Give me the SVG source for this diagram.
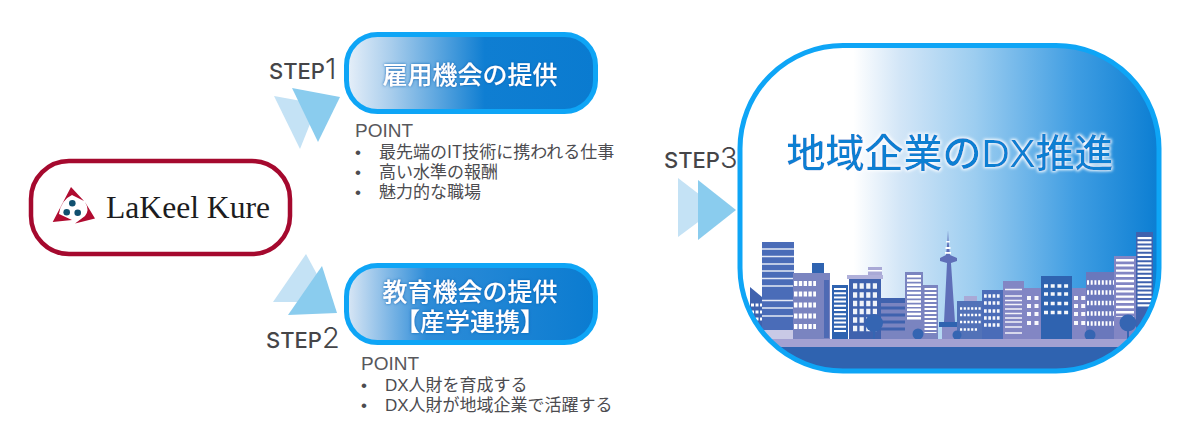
<svg xmlns="http://www.w3.org/2000/svg" width="1200" height="428" viewBox="0 0 1200 428">
<style>
text{font-family:"Noto Sans CJK JP","Noto Sans",sans-serif}
.step{font-family:Inter,"Noto Sans",sans-serif;fill:#454548;font-size:22px;font-weight:500}
.step tspan{font-size:29px;font-weight:300}
.btn{fill:#fff;font-size:25px;font-weight:500;text-anchor:middle;filter:url(#blueGlow)}
.hd{fill:#58585c;font-size:19px;font-family:"Liberation Sans",sans-serif}
.li{fill:#4c4c50;font-size:17px}
.li2{fill:#4c4c50;font-size:17px;font-family:"Liberation Sans","Noto Sans CJK JP",sans-serif}
.bu{fill:#4c4c50;font-size:17px;font-family:"Liberation Sans",sans-serif}
.lt{fill:#c4e2f5}.dk{fill:#8accee}
.w{fill:none;stroke:#fff}
</style>
<defs>
<linearGradient id="g1" gradientUnits="userSpaceOnUse" x1="346" x2="598" y1="0" y2="0"><stop offset="0" stop-color="#e8f0f9"/><stop offset=".18" stop-color="#a8cdec"/><stop offset=".55" stop-color="#0f7ed2"/><stop offset="1" stop-color="#0a7bd0"/></linearGradient>
<linearGradient id="g2" gradientUnits="userSpaceOnUse" x1="346" x2="598" y1="0" y2="0"><stop offset="0" stop-color="#dce8f5"/><stop offset=".32" stop-color="#2d8cd8"/><stop offset="1" stop-color="#0a7bd0"/></linearGradient>
<linearGradient id="g3" gradientUnits="userSpaceOnUse" x1="740" x2="1160" y1="0" y2="0"><stop offset="0" stop-color="#fff"/><stop offset=".27" stop-color="#fff"/><stop offset=".38" stop-color="#d3e6f7"/><stop offset=".56" stop-color="#9ccdf0"/><stop offset=".8" stop-color="#3f9de2"/><stop offset="1" stop-color="#0a7dd2"/></linearGradient>
<filter id="blueGlow" x="-10%" y="-30%" width="120%" height="160%"><feDropShadow dx="0" dy="0" stdDeviation="1.600" flood-color="#0a5fb0" flood-opacity=".9"/></filter>
<filter id="whiteGlow" x="-5%" y="-20%" width="110%" height="140%"><feMorphology in="SourceAlpha" operator="dilate" radius="1.200" result="d"/><feGaussianBlur in="d" stdDeviation="1.500" result="b"/><feFlood flood-color="#fff"/><feComposite in2="b" operator="in"/><feMerge><feMergeNode/><feMergeNode in="SourceGraphic"/></feMerge></filter>
<clipPath id="bigClip"><rect x="740" y="45.500" width="419" height="325.500" rx="103"/></clipPath>
</defs>
<rect width="1200" height="428" fill="#fff"/>

<g id="connectors">
<polygon class="lt" points="274,96 318,104 300,149"/>
<polygon class="dk" points="292,88 340,97 318,142"/>
<polygon class="lt" points="306,254 332,302 273,302"/>
<polygon class="dk" points="322,266 337,313 288,315"/>
<polygon class="lt" points="678,178 717,208 678,237"/>
<polygon class="dk" points="698,180 736,210 698,240"/>
</g>

<g id="node-lakeel">
<rect x="31" y="161" width="259" height="93" rx="38" fill="#fff" stroke="#a5092e" stroke-width="4.500"/>
<path d="M71,187 L84,201 L72,195 Q61,200 59,214 L72,220 L52.700,222Z M85,202 L95,218.500 L75,223.500 L85,216 Q90,210 85,202Z" fill="#b00b30"/>
<circle cx="72.300" cy="203.300" r="3.300" fill="#10506f"/><circle cx="66.700" cy="212.300" r="3.300" fill="#10506f"/><circle cx="77.700" cy="212.700" r="3.300" fill="#10506f"/>
<text x="106" y="218" font-size="32" fill="#1c1c20" textLength="164" lengthAdjust="spacingAndGlyphs" style="font-family:'Liberation Serif',serif">LaKeel Kure</text>
</g>

<g id="node-step1">
<text class="step" x="269" y="79">STEP<tspan>1</tspan></text>
<rect x="346.500" y="34.500" width="249" height="77" rx="31" fill="url(#g1)" stroke="#0ea5f6" stroke-width="5"/>
<text class="btn" x="470" y="84">雇用機会の提供</text>
<text class="hd" x="355" y="137">POINT</text>
<text class="bu" x="355" y="158">•</text><text class="li" x="379" y="158">最先端のIT技術に携われる仕事</text>
<text class="bu" x="355" y="178">•</text><text class="li" x="379" y="178">高い水準の報酬</text>
<text class="bu" x="355" y="198">•</text><text class="li" x="379" y="198">魅力的な職場</text>
</g>

<g id="node-step2">
<text class="step" x="266" y="348">STEP<tspan>2</tspan></text>
<rect x="346.500" y="265.500" width="249" height="77" rx="31" fill="url(#g2)" stroke="#0ea5f6" stroke-width="5"/>
<text class="btn" x="470" y="301">教育機会の提供</text>
<text class="btn" x="470" y="331">【産学連携】</text>
<text class="hd" x="361" y="370">POINT</text>
<text class="bu" x="361" y="391">•</text><text class="li2" x="385" y="391">DX人財を育成する</text>
<text class="bu" x="361" y="411">•</text><text class="li2" x="385" y="411">DX人財が地域企業で活躍する</text>
</g>

<g id="node-step3">
<text class="step" x="664" y="168">STEP<tspan>3</tspan></text>
<rect x="740" y="45.500" width="419" height="325.500" rx="103" fill="url(#g3)"/>
<g clip-path="url(#bigClip)">
<polygon points="750,287 762,297 762,330 750,330" fill="#3f62ae"/>
<path class="w" d="M751,305h11M751,312h11M751,319h11" stroke-width="3" stroke-dasharray="3 1.500"/>
<rect x="762" y="242" width="32" height="88" fill="#4a6cb8"/>
<path class="w" d="M762,249h32M762,256.500h32M762,264h32M762,271h32M762,278.500h32M762,286h32M762,300.500h32M762,308h32M762,316h32" stroke-width="1.300" stroke-opacity=".85"/>
<rect x="762" y="330" width="32" height="9" fill="#c9c9e6"/>
<rect x="793" y="273" width="37" height="66" fill="#7a84c0"/>
<rect x="812" y="263" width="12" height="10" fill="#2f63b0"/>
<rect x="824" y="280" width="5" height="58" fill="#4e6ab4"/>
<path class="w" d="M794,283.500h22M794,294h22M794,305h22M794,316h22M794,326.500h22" stroke-width="5" stroke-dasharray="3.400 1.400"/>
<rect x="832" y="285" width="16" height="54" fill="#2f63b0"/>
<path class="w" d="M840,288v45" stroke-width="12" stroke-dasharray="2 2.200"/>
<rect x="849" y="279" width="32" height="60" fill="#3f62ae"/>
<rect x="847" y="275" width="36" height="4" fill="#b0b0da"/>
<rect x="868" y="267" width="14" height="8" fill="#a9a9d6"/><rect x="868" y="270" width="14" height="1.500" fill="#fff"/>
<path class="w" d="M853,286h26M853,295h26M853,303.500h26M853,311.500h26M853,320h26M853,328.500h26" stroke-width="5.500" stroke-dasharray="4.200 2.400" stroke-opacity=".92"/>
<rect x="881" y="298" width="26" height="41" fill="#7a84c0"/>
<rect x="881" y="298" width="26" height="5" fill="#3f62ae"/>
<path d="M881,308h26M881,315h26M881,322h26M881,329h26" stroke="#3f62ae" stroke-width="3" fill="none"/>
<rect x="905" y="272" width="18" height="67" fill="#7a84c0"/>
<path class="w" d="M914,275v46" stroke-width="14" stroke-dasharray="2.500 1.700"/>
<rect x="923" y="285" width="15" height="54" fill="#7a84c0"/>
<path class="w" d="M930.500,288v45" stroke-width="12" stroke-dasharray="2 2"/>
<circle cx="874" cy="323" r="9" fill="#3565b2"/><rect x="873" y="325" width="2" height="14" fill="#3565b2"/>
<circle cx="918" cy="334" r="5.500" fill="#3565b2"/>
<polygon points="948,230 948.700,243 950,255 957,258 957,261 951,263 955,322 944,322 947,263 940,261 940,258 946,255 947.300,243" fill="#5f6fb8"/>
<rect x="946.200" y="241" width="3.600" height="1.500" fill="#fff"/><rect x="945.500" y="247" width="5" height="2" fill="#fff"/><rect x="945" y="252" width="6" height="1.800" fill="#fff"/>
<rect x="939" y="322" width="19" height="5" fill="#2f63b0"/><rect x="942" y="327" width="15" height="12" fill="#8a8ec8"/>
<rect x="957" y="301" width="26" height="38" fill="#5272b8"/><rect x="964" y="296" width="13" height="5" fill="#a9a9d6"/>
<path class="w" d="M960,308.500h21M960,315h21M960,322h21M960,329.500h18" stroke-width="2.600" stroke-dasharray="2.200 1.500"/>
<circle cx="957" cy="335" r="4.500" fill="#3565b2"/>
<rect x="982" y="290" width="21" height="49" fill="#4a6cb8"/>
<path class="w" d="M984,296h17M984,303h17M984,311h17M984,318h17M984,325h17" stroke-width="3.400" stroke-dasharray="2.700 1.600" stroke-opacity=".95"/>
<rect x="1003" y="281" width="21" height="58" fill="#8286c4"/>
<path class="w" d="M1005,289.500h17M1005,296h17M1005,300.500h17M1005,304.500h17M1005,309h17M1005,313.500h17M1005,318h17M1005,322h17M1005,327h17M1005,333h17" stroke-width="1.400" stroke-opacity=".9"/>
<rect x="1024" y="288" width="17" height="51" fill="#8286c4"/>
<path class="w" d="M1027,298h12M1027,306h12M1027,314h12M1027,323h12" stroke-width="4" stroke-dasharray="4 3.500" stroke-opacity=".95"/>
<rect x="1041" y="276" width="31" height="63" fill="#2f63b0"/>
<path class="w" d="M1044,286h25M1044,294h25M1044,303.500h25M1044,312.500h25" stroke-width="3.600" stroke-dasharray="4 2.700" stroke-opacity=".95"/>
<rect x="1072" y="288" width="15" height="51" fill="#8286c4"/>
<path class="w" d="M1074,298h13M1074,306h13M1074,314h13M1074,323h13" stroke-width="4" stroke-dasharray="4 3.200" stroke-opacity=".95"/>
<rect x="1086" y="272" width="29" height="67" fill="#6a78bc"/>
<path class="w" d="M1087,282.500h27M1087,292.500h27M1087,303h27M1087,313.500h27M1087,323.500h27" stroke-width="4.600" stroke-dasharray="2 1.700"/>
<rect x="1114" y="256" width="22" height="83" fill="#8286c4"/>
<path class="w" d="M1125,259v58" stroke-width="18" stroke-dasharray="2.400 2.800"/>
<rect x="1136" y="232" width="17" height="95" fill="#3f62ae"/>
<path class="w" d="M1144.500,237v70" stroke-width="14" stroke-dasharray="2.200 2"/>
<circle cx="1128" cy="323" r="8.500" fill="#3565b2"/><rect x="1127" y="325" width="2" height="14" fill="#3565b2"/>
<circle cx="1090" cy="335" r="5.500" fill="#3565b2"/>
<rect x="740" y="339" width="420" height="8" fill="#a3a1d2"/>
<rect x="740" y="347" width="420" height="26" fill="#2f63b0"/>
</g>
<rect x="740" y="45.500" width="419" height="325.500" rx="103" fill="none" stroke="#0ea5f6" stroke-width="5"/>
<text x="950" y="167" font-size="39" font-weight="500" fill="#0a7fd2" text-anchor="middle" filter="url(#whiteGlow)" style="font-family:'Liberation Sans','Noto Sans CJK JP',sans-serif">地域企業のDX推進</text>
</g>
</svg>
